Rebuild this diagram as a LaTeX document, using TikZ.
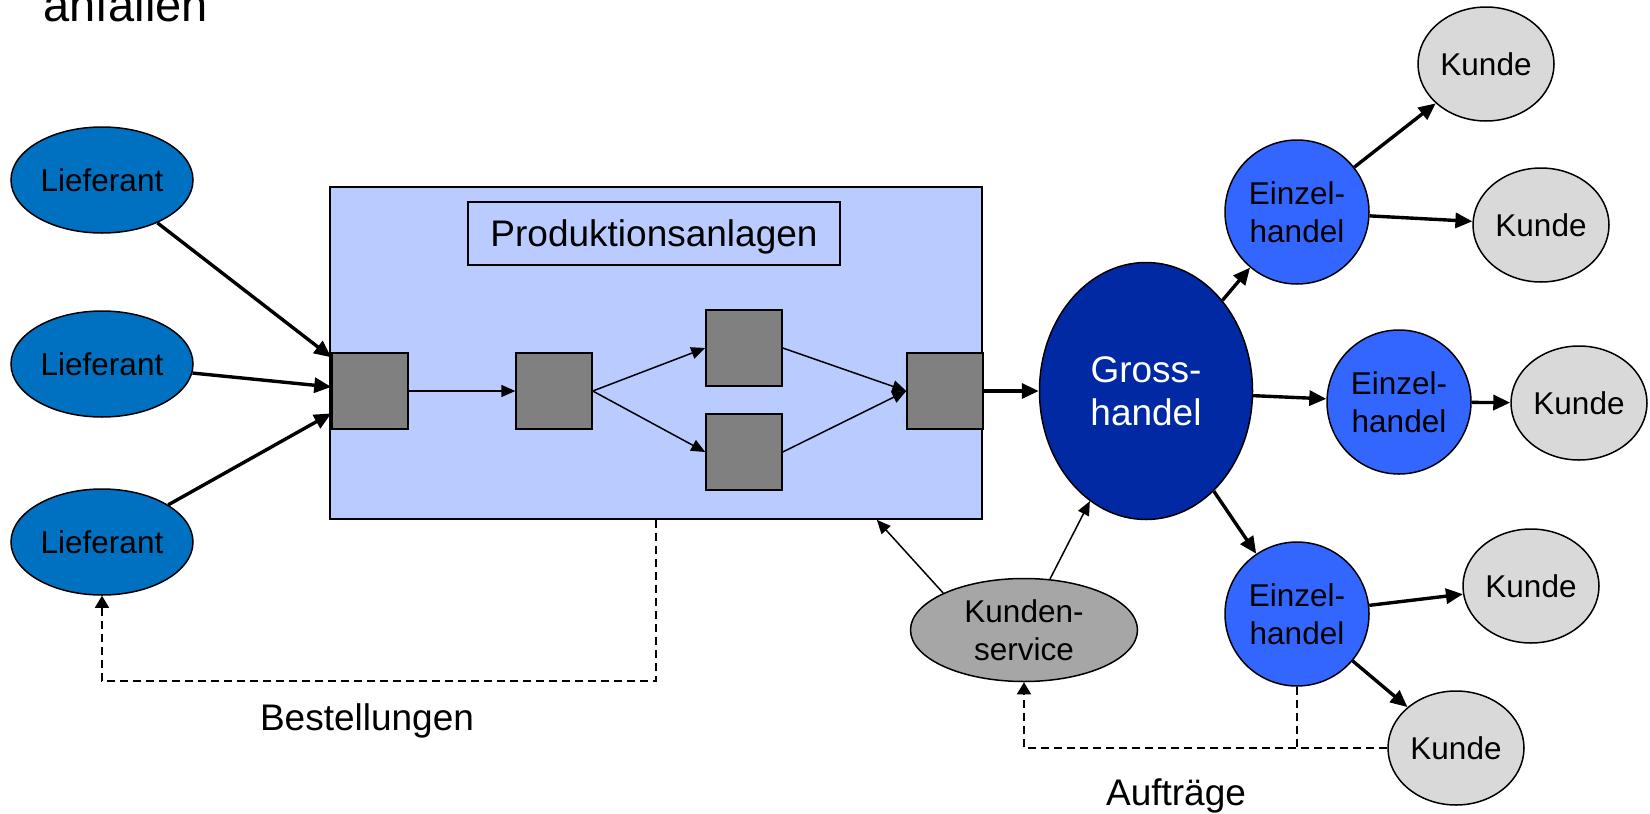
\documentclass[tikz,border=0pt]{standalone}
\usepackage{fontspec}
\setmainfont{Liberation Sans}
\usetikzlibrary{arrows.meta, shapes.geometric, calc}

\definecolor{liefblue}{RGB}{0,112,192}
\definecolor{plantblue}{RGB}{185,203,255}
\definecolor{machinegray}{RGB}{128,128,128}
\definecolor{grossblue}{RGB}{0,41,163}
\definecolor{einzblue}{RGB}{51,102,255}
\definecolor{kundegray}{RGB}{217,217,217}
\definecolor{servicegray}{RGB}{166,166,166}

\begin{document}
\begin{tikzpicture}[x=0.5pt,y=-0.5pt,
    every node/.style={font=\fontsize{15.75}{19}\selectfont,inner sep=0pt,align=center},
    bigfont/.style={font=\fontsize{18.5}{21.5}\selectfont},
    supplier/.style={ellipse,draw,line width=0.75pt,fill=liefblue,minimum width=91pt,minimum height=53pt},
    plant/.style={rectangle,draw,line width=0.75pt,fill=plantblue,minimum width=326pt,minimum height=166pt},
    plantlabel/.style={rectangle,draw,line width=0.75pt,bigfont,text depth=0pt,minimum width=186pt,minimum height=31.5pt},
    machine/.style={rectangle,draw,line width=0.75pt,fill=machinegray,minimum width=38pt,minimum height=38pt},
    wholesale/.style={ellipse,draw,line width=0.75pt,fill=grossblue,text=white,bigfont,minimum width=106.5pt,minimum height=128.5pt},
    retail/.style={circle,draw,line width=0.75pt,fill=einzblue,minimum size=72pt},
    customer/.style={ellipse,draw,line width=0.75pt,fill=kundegray,minimum width=68pt,minimum height=57pt},
    servicebox/.style={ellipse,draw,line width=0.75pt,fill=servicegray,minimum width=113.5pt,minimum height=51.5pt},
    bigarrow/.style={line width=1.7pt,-{Triangle[length=8.5pt,width=7.5pt]}},
    smallarrow/.style={line width=0.75pt,-{Triangle[length=7pt,width=6pt]}},
    dashline/.style={line width=0.75pt,dash pattern=on 4pt off 2.5pt},
    dasharrow/.style={dashline,-{Triangle[length=6pt,width=7pt]}}
  ]
  \useasboundingbox (0,0) rectangle (1650,814);

  \node[anchor=base west,font=\fontsize{23.5}{28}\selectfont] (heading) at (43,21) {anfallen};

  % Lieferanten
  \node[supplier] (lief1) at (102,180) {Lieferant};
  \node[supplier] (lief2) at (102,364) {Lieferant};
  \node[supplier] (lief3) at (102,542) {Lieferant};

  % Produktionsanlagen
  \node[plant] (prod) at (656,353) {};
  \node[plantlabel] (title) at (654,233.5) {Produktionsanlagen};
  \node[machine] (m1) at (370,391) {};
  \node[machine] (m2) at (554,391) {};
  \node[machine] (m3) at (744,348) {};
  \node[machine] (m4) at (744,452) {};
  \node[machine] (m5) at (945,391) {};

  % Handel und Kunden
  \node[wholesale] (gross) at (1146,391) {Gross-\\handel};
  \node[retail] (einz1) at (1297,212) {Einzel-\\handel};
  \node[retail] (einz2) at (1399,402) {Einzel-\\handel};
  \node[retail] (einz3) at (1297,614) {Einzel-\\handel};
  \node[customer] (kunde1) at (1486,64) {Kunde};
  \node[customer] (kunde2) at (1541,225) {Kunde};
  \node[customer] (kunde3) at (1579,403) {Kunde};
  \node[customer] (kunde4) at (1531,586) {Kunde};
  \node[customer] (kunde5) at (1456,748) {Kunde};
  \node[servicebox] (service) at (1024,630) {Kunden-\\service};

  \node[anchor=base,bigfont] (bestlabel) at (367,730) {Bestellungen};
  \node[anchor=base,bigfont] (auftlabel) at (1176,805) {Aufträge};

  % Materialfluss
  \draw[bigarrow] (lief1) -- (m1.139);
  \draw[bigarrow] (lief2) -- (m1.174);
  \draw[bigarrow] (lief3) -- (m1.210);
  \draw[smallarrow] (m1) -- (m2);
  \draw[smallarrow] (m2.east) -- (m3.west);
  \draw[smallarrow] (m2.east) -- (m4.west);
  \draw[smallarrow] (m3.east) -- (m5.west);
  \draw[smallarrow] (m4.east) -- (m5.west);
  \draw[bigarrow] (m5) -- (gross);
  \draw[bigarrow] (gross) -- (einz1);
  \draw[bigarrow] (gross) -- (einz2);
  \draw[bigarrow] (gross) -- (einz3);
  \draw[bigarrow] (einz1) -- (kunde1);
  \draw[bigarrow] (einz1) -- (kunde2);
  \draw[bigarrow] (einz2) -- (kunde3);
  \draw[bigarrow] (einz3) -- (kunde4);
  \draw[bigarrow] (einz3) -- (kunde5);

  % Informationsfluss
  \draw[smallarrow] (service.north west) -- ($(prod.south east)+(-106,0)$);
  \draw[smallarrow] (service.63) -- (gross.243);
  \draw[dasharrow] (prod.south) -- ++(0,161) -| (lief3.south);
  \draw[dasharrow] (kunde5.west) -| (service.south);
  \draw[dashline] (einz3.south) -- (einz3.south |- kunde5.west);
\end{tikzpicture}
\end{document}
